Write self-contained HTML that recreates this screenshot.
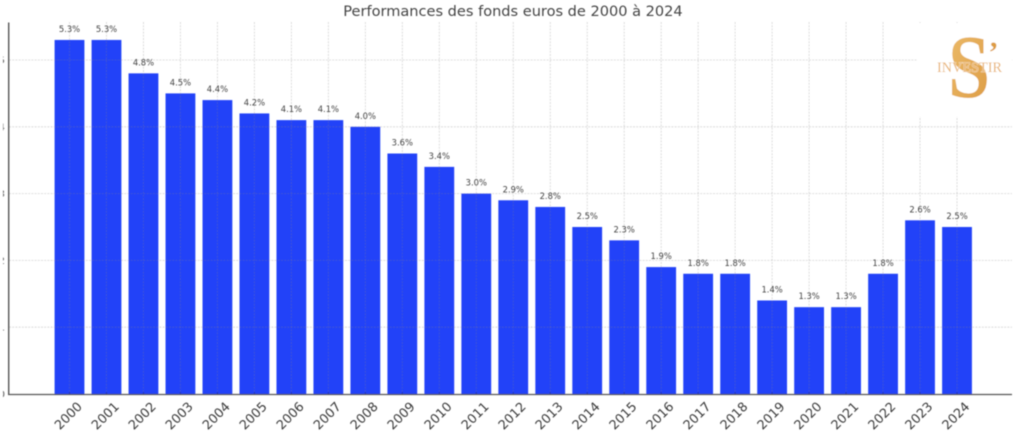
<!DOCTYPE html>
<html lang="fr">
<head>
<meta charset="utf-8">
<title>Performances des fonds euros de 2000 à 2024</title>
<style>
html,body{margin:0;padding:0;background:#fff;width:1024px;height:438px;overflow:hidden}
svg{display:block;font-family:"DejaVu Sans","Liberation Sans",sans-serif}
</style>
</head>
<body>
<svg id="chart" width="1024" height="438" viewBox="0 0 1024 438" xmlns="http://www.w3.org/2000/svg">
<defs>
<filter id="soft" x="-5%" y="-5%" width="110%" height="110%"><feGaussianBlur stdDeviation="0.4"/></filter>
<linearGradient id="gold" x1="0" y1="0" x2="1" y2="1"><stop offset="0" stop-color="#ecbd6c"/><stop offset="1" stop-color="#dc9a42"/></linearGradient>
<clipPath id="ylabel-clip"><rect x="3" y="0" width="1.8" height="438"/></clipPath>
</defs>
<g id="plot" filter="url(#soft)"></g>
<text x="513" y="16" text-anchor="middle" font-size="14.55" fill="#444" filter="url(#soft)">Performances des fonds euros de 2000 à 2024</text>
<g filter="url(#soft)">
<rect x="917" y="23" width="95" height="94" fill="#fff"/>
<text transform="translate(969 97) scale(0.84 1)" text-anchor="middle" font-family="Liberation Serif,serif" font-weight="bold" font-size="90" fill="url(#gold)">S</text>
<text x="993.5" y="62" text-anchor="middle" font-family="Liberation Serif,serif" font-weight="bold" font-size="30" fill="#dd9c42">’</text>
<text x="969.5" y="72" text-anchor="middle" font-family="Liberation Serif,serif" font-size="14.5" textLength="65" lengthAdjust="spacingAndGlyphs" fill="#e9b678" stroke="#fff" stroke-opacity="0.6" stroke-width="0.8" paint-order="stroke">INVESTIR</text>
</g>
<script>
var years = ['2000','2001','2002','2003','2004','2005','2006','2007','2008','2009','2010','2011','2012','2013','2014','2015','2016','2017','2018','2019','2020','2021','2022','2023','2024'];
var rates = [5.3,5.3,4.8,4.5,4.4,4.2,4.1,4.1,4.0,3.6,3.4,3.0,2.9,2.8,2.5,2.3,1.9,1.8,1.8,1.4,1.3,1.3,1.8,2.6,2.5];
var yTicks = [0,1,2,3,4,5];

function xAxis(i){ return 69.5 + i * 36.98; }
function yAxis(v){ return 394 - v * 66.8; }
var barWidth = 29.8;
var svgNS = 'http://www.w3.org/2000/svg';
var plot = document.getElementById('plot');
function make(tag, attrs, parent, text){
  var el = document.createElementNS(svgNS, tag);
  for (var k in attrs) el.setAttribute(k, attrs[k]);
  if (text !== undefined) el.textContent = text;
  parent.appendChild(el);
  return el;
}

// bars
rates.forEach(function(v, i){
  var bar = make('rect', {x: xAxis(i) - barWidth / 2, y: yAxis(v), width: barWidth, height: yAxis(0) - yAxis(v), fill: '#2343f8'}, plot);
  
  
});

// horizontal grid and clipped y tick labels
yTicks.forEach(function(t){
  if (t > 0) {
    var g = make('line', {x1: 9, x2: 1012, y1: yAxis(t), y2: yAxis(t), stroke: '#7c7c7c', 'stroke-opacity': 0.32, 'stroke-width': 0.8, 'stroke-dasharray': '2 1.2'}, plot);
    
    
  }
  var lab = make('text', {x: 5, y: yAxis(t) + 3.5, 'text-anchor': 'end', 'font-size': 10, fill: '#555', 'clip-path': 'url(#ylabel-clip)'}, plot, t);
  
  
});

// vertical grid, x ticks and labels
years.forEach(function(y, i){
  var x = xAxis(i);
  var g = make('line', {x1: x, x2: x, y1: 22, y2: yAxis(0), stroke: '#7c7c7c', 'stroke-opacity': 0.32, 'stroke-width': 0.8, 'stroke-dasharray': '2 1.2'}, plot);
  
  
  var tick = make('line', {x1: x, x2: x, y1: yAxis(0) - 2, y2: yAxis(0), stroke: '#1a2aa0', 'stroke-width': 0.8}, plot);
  
  
  var lab = make('text', {transform: 'translate(' + (x + 7) + ' 401) rotate(-45)', 'text-anchor': 'end', 'font-size': 12.8, fill: '#3a3a3a', y: 9}, plot, y);
  
  
});

// value labels
rates.forEach(function(v, i){
  var lab = make('text', {x: xAxis(i), y: yAxis(v) - 8, 'text-anchor': 'middle', 'font-size': 8.4, fill: '#444'}, plot, v.toFixed(1) + '%');
  
  
});

// spines
var leftSpine = make('line', {x1: 8.7, x2: 8.7, y1: 22.5, y2: 394.5, stroke: '#555', 'stroke-width': 1.4}, plot);


var bottomSpine = make('line', {x1: 8, x2: 1012, y1: 394.5, y2: 394.5, stroke: '#555', 'stroke-width': 1.3}, plot);


</script>
</svg>
</body>
</html>
